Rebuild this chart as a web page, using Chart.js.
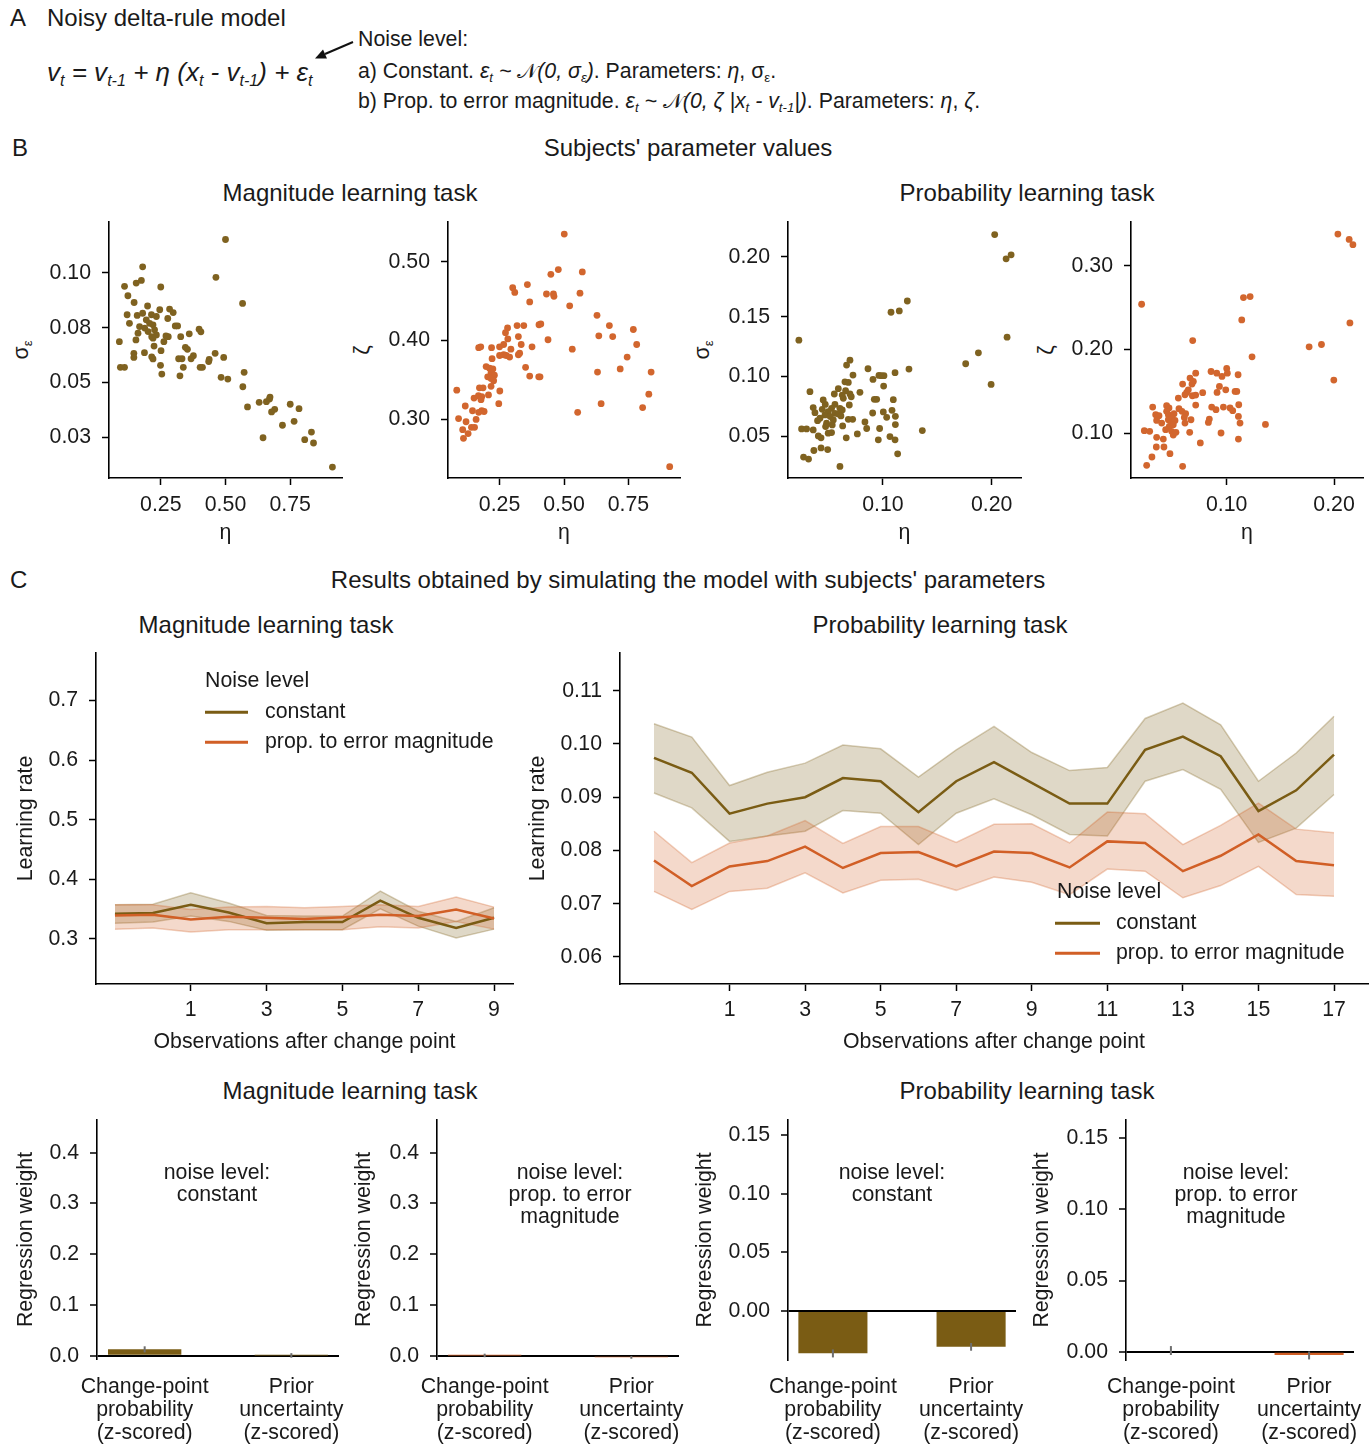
<!DOCTYPE html>
<html>
<head>
<meta charset="utf-8">
<script src="https://cdn.jsdelivr.net/npm/chart.js@4.4.1/dist/chart.umd.min.js"></script>
<style>
  body { margin: 0; background: #fff; width: 1372px; height: 1445px; position: relative; overflow: hidden;
         font-family: 'Liberation Sans', Arial, Helvetica, sans-serif; color: #1a1a1a; }
  canvas { position: absolute; }
  .t { position: absolute; white-space: nowrap; line-height: 1; font-size: 21.3px; transform: translate(0, -50%); }
  .c { transform: translate(-50%, -50%); text-align: center; }
  .h { font-size: 24px; }
  .v { transform: translate(-50%, -50%) rotate(-90deg); }
  sub { font-size: 0.62em; vertical-align: baseline; position: relative; top: 0.32em; }
  .cal { font-family: 'DejaVu Sans', 'Noto Sans', sans-serif; font-style: normal; }
  .ln { position: absolute; height: 2.5px; transform: translate(0, -50%); }
</style>
</head>
<body>

<!-- panel A -->
<div class="t h" style="left:10px;top:18px">A</div>
<div class="t h" style="left:47px;top:18px">Noisy delta-rule model</div>
<div class="t" style="left:47px;top:72px;font-size:26px"><i>v<sub>t</sub> = v<sub>t-1</sub> + η (x<sub>t</sub> - v<sub>t-1</sub>) + ε<sub>t</sub></i></div>
<svg style="position:absolute;left:0;top:0" width="400" height="100">
  <line x1="353" y1="42" x2="325" y2="54" stroke="#111" stroke-width="2"/>
  <polygon points="315,58.5 327,58.6 323,49.4" fill="#111"/>
</svg>
<div class="t" style="left:358px;top:40px">Noise level:</div>
<div class="t" style="left:358px;top:71px">a) Constant. <i>ε<sub>t</sub> ~ <span class="cal">𝒩</span>(0, σ<sub>ε</sub>)</i>. Parameters: <i>η</i>, σ<sub>ε</sub>.</div>
<div class="t" style="left:358px;top:101px">b) Prop. to error magnitude. <i>ε<sub>t</sub> ~ <span class="cal">𝒩</span>(0, ζ |x<sub>t</sub> - v<sub>t-1</sub>|)</i>. Parameters: <i>η</i>, <i>ζ</i>.</div>

<!-- panel B -->
<div class="t h" style="left:12px;top:148px">B</div>
<div class="t h c" style="left:688px;top:148px">Subjects' parameter values</div>
<div class="t h c" style="left:350px;top:193px">Magnitude learning task</div>
<div class="t h c" style="left:1027px;top:193px">Probability learning task</div>
<div class="t v" style="left:22px;top:350px">σ<sub>ε</sub></div>
<div class="t v" style="left:363px;top:350px">ζ</div>
<div class="t v" style="left:703px;top:350px">σ<sub>ε</sub></div>
<div class="t v" style="left:1047px;top:350px">ζ</div>
<canvas id="s1"></canvas>
<canvas id="s2"></canvas>
<canvas id="s3"></canvas>
<canvas id="s4"></canvas>

<!-- panel C -->
<div class="t h" style="left:10px;top:580px">C</div>
<div class="t h c" style="left:688px;top:580px">Results obtained by simulating the model with subjects' parameters</div>
<div class="t h c" style="left:266px;top:625px">Magnitude learning task</div>
<div class="t h c" style="left:940px;top:625px">Probability learning task</div>
<canvas id="l1"></canvas>
<canvas id="l2"></canvas>
<div class="t" style="left:205px;top:681px">Noise level</div>
<div class="ln" style="left:205px;top:712px;width:43px;background:#7a5c14"></div>
<div class="t" style="left:265px;top:712px">constant</div>
<div class="ln" style="left:205px;top:742px;width:43px;background:#d15f26"></div>
<div class="t" style="left:265px;top:742px">prop. to error magnitude</div>
<div class="t" style="left:1057px;top:892px">Noise level</div>
<div class="ln" style="left:1055px;top:923px;width:45px;background:#7a5c14"></div>
<div class="t" style="left:1116px;top:923px">constant</div>
<div class="ln" style="left:1055px;top:953px;width:45px;background:#d15f26"></div>
<div class="t" style="left:1116px;top:953px">prop. to error magnitude</div>

<div class="t h c" style="left:350px;top:1091px">Magnitude learning task</div>
<div class="t h c" style="left:1027px;top:1091px">Probability learning task</div>
<canvas id="b1"></canvas>
<canvas id="b2"></canvas>
<canvas id="b3"></canvas>
<canvas id="b4"></canvas>
<div class="t c" style="left:217px;top:1183px;line-height:22px">noise level:<br>constant</div>
<div class="t c" style="left:570px;top:1194px;line-height:22px">noise level:<br>prop. to error<br>magnitude</div>
<div class="t c" style="left:892px;top:1183px;line-height:22px">noise level:<br>constant</div>
<div class="t c" style="left:1236px;top:1194px;line-height:22px">noise level:<br>prop. to error<br>magnitude</div>

<script>
const OLIVE = '#7a5c14';
const ORANGE = '#d15f26';
const DOT_OLIVE = '#7f6220';
const DOT_ORANGE = '#d2662e';

// B: subjects' parameters, magnitude task
const magEtaConst = [0.50,0.18,0.463,0.175,0.155,0.11,0.25,0.123,0.147,0.566,
  0.199,0.246,0.284,0.298,0.12,0.159,0.18,0.214,0.233,0.129,
  0.277,0.306,0.315,0.194,0.207,0.22,0.168,0.188,0.226,0.162,
  0.201,0.215,0.233,0.22,0.09,0.154,0.279,0.27,0.327,0.36,
  0.398,0.405,0.262,0.224,0.345,0.353,0.251,0.187,0.146,0.146,
  0.46,0.376,0.367,0.319,0.332,0.493,0.437,0.215,0.22,0.094,
  0.11,0.249,0.337,0.402,0.411,0.435,0.572,0.254,0.324,0.483,
  0.509,0.567,0.658,0.63,0.585,0.67,0.672,0.75,0.784,0.69,
  0.678,0.765,0.72,0.645,0.832,0.806,0.84,0.913];
const magSigma = [0.1153,0.1028,0.098,0.0966,0.0954,0.0939,0.0936,0.0896,0.0865,0.0861,
  0.0849,0.0832,0.0835,0.0819,0.0809,0.0806,0.0816,0.0809,0.0801,0.077,
  0.0792,0.0758,0.0758,0.0786,0.077,0.0763,0.0755,0.0748,0.074,0.0725,
  0.0732,0.0709,0.0717,0.0702,0.0686,0.0694,0.0709,0.0712,0.0709,0.0722,
  0.0743,0.0731,0.0686,0.0666,0.066,0.0651,0.0645,0.0636,0.0633,0.0614,
  0.0633,0.0622,0.0608,0.0608,0.0608,0.0614,0.0605,0.0617,0.0607,0.0569,
  0.0569,0.0578,0.0569,0.0569,0.0569,0.0595,0.0546,0.0538,0.053,0.0523,
  0.0515,0.048,0.0412,0.0409,0.0388,0.0424,0.0433,0.04,0.038,0.0377,
  0.0365,0.0322,0.0304,0.0247,0.0273,0.0238,0.0223,0.0113];
const magEtaProp = [0.501,0.478,0.449,0.571,0.358,0.301,0.309,0.432,0.459,0.461,
  0.562,0.367,0.522,0.628,0.281,0.318,0.344,0.403,0.41,0.676,
  0.769,0.635,0.689,0.273,0.323,0.282,0.438,0.169,0.177,0.219,
  0.25,0.266,0.334,0.376,0.532,0.294,0.782,0.25,0.266,0.276,
  0.289,0.323,0.328,0.221,0.745,0.198,0.351,0.211,0.224,0.718,
  0.217,0.23,0.367,0.402,0.407,0.204,0.217,0.227,0.63,0.838,
  0.172,0.186,0.217,0.084,0.251,0.207,0.168,0.181,0.151,0.178,
  0.829,0.247,0.644,0.117,0.805,0.145,0.181,0.19,0.169,0.553,
  0.091,0.159,0.12,0.141,0.153,0.107,0.128,0.11,0.91];
const magZeta = [0.535,0.490,0.484,0.487,0.471,0.467,0.461,0.459,0.459,0.456,
  0.460,0.449,0.444,0.432,0.416,0.419,0.419,0.420,0.421,0.419,
  0.414,0.406,0.405,0.41,0.405,0.402,0.401,0.391,0.392,0.391,
  0.392,0.395,0.395,0.392,0.389,0.389,0.395,0.381,0.382,0.381,
  0.379,0.382,0.384,0.377,0.379,0.367,0.366,0.365,0.364,0.364,
  0.359,0.356,0.355,0.354,0.354,0.354,0.352,0.349,0.36,0.36,
  0.34,0.34,0.342,0.337,0.336,0.331,0.33,0.329,0.327,0.325,
  0.332,0.32,0.32,0.317,0.315,0.311,0.311,0.31,0.309,0.309,
  0.301,0.3,0.297,0.29,0.29,0.287,0.282,0.276,0.24];

// B: subjects' parameters, probability task
const probEtaConst = [0.2028,0.2179,0.2133,0.1224,0.115,0.1074,0.0226,0.2142,0.1878,0.1761,
  0.1995,0.0696,0.0665,0.0724,0.0862,0.1239,0.1111,0.0963,0.0985,0.1009,
  0.0908,0.1006,0.065,0.0681,0.0589,0.0328,0.0552,0.0788,0.0625,0.0656,
  0.0696,0.0708,0.045,0.0635,0.092,0.0942,0.1095,0.0558,0.0469,0.069,
  0.0358,0.0527,0.0604,0.0625,0.0441,0.0496,0.0374,0.1083,0.1003,0.0905,
  0.0558,0.0589,0.1114,0.1034,0.0466,0.0515,0.0398,0.042,0.0543,0.0481,
  0.0613,0.0681,0.0721,0.0834,0.0472,0.0533,0.0629,0.085,0.1114,0.0969,
  0.0251,0.0297,0.0358,0.1362,0.0764,0.0527,0.0496,0.0405,0.043,0.0662,
  0.1064,0.0957,0.1111,0.0364,0.043,0.0491,0.1135,0.0269,0.0315,0.0604];
const probSigma = [0.2187,0.2017,0.1984,0.1631,0.1548,0.1537,0.1303,0.1328,0.1197,0.1106,
  0.0933,0.1136,0.1095,0.1011,0.1064,0.1061,0.1031,0.1008,0.1006,0.1006,
  0.0975,0.0919,0.0955,0.095,0.0897,0.0872,0.0853,0.0867,0.0844,0.088,
  0.0853,0.083,0.0803,0.0817,0.0808,0.0808,0.0805,0.0766,0.0766,0.0761,
  0.0739,0.0733,0.0733,0.0719,0.0725,0.0705,0.0697,0.0716,0.0703,0.0694,
  0.0691,0.0686,0.0666,0.0658,0.0678,0.0664,0.063,0.065,0.0636,0.0608,
  0.0669,0.0641,0.0641,0.0619,0.058,0.0594,0.0586,0.0564,0.0597,0.0564,
  0.0561,0.0561,0.0552,0.0547,0.0519,0.053,0.0525,0.0502,0.0486,0.0486,
  0.0497,0.0469,0.0469,0.038,0.0402,0.0388,0.0352,0.0325,0.0308,0.0247];
const probEtaProp = [0.2036,0.2141,0.2176,0.0207,0.1156,0.1218,0.114,0.2148,0.0683,0.1768,
  0.1883,0.1236,0.1998,0.1,0.1006,0.0854,0.0907,0.0956,0.1106,0.0711,
  0.0658,0.0589,0.0676,0.0689,0.0627,0.0642,0.0611,0.068,0.0711,0.0776,
  0.091,0.0932,0.0991,0.1078,0.1094,0.0549,0.0711,0.1112,0.086,0.09,
  0.0969,0.1031,0.1056,0.031,0.044,0.0462,0.0555,0.0583,0.0338,0.0369,
  0.044,0.0456,0.0509,0.0617,0.0605,0.0347,0.0394,0.0456,0.049,0.0487,
  0.0518,0.0465,0.0502,0.0611,0.0667,0.0838,0.0829,0.1109,0.1124,0.1361,
  0.0431,0.0487,0.0502,0.0527,0.0232,0.0282,0.0655,0.0947,0.1109,0.0347,
  0.0409,0.0344,0.0415,0.0754,0.0471,0.0303,0.0254,0.0589];
const probZeta = [0.3381,0.3317,0.3254,0.2541,0.2621,0.2633,0.2354,0.2318,0.2107,0.2032,
  0.206,0.1912,0.1634,0.1773,0.1717,0.1737,0.1717,0.1678,0.1698,0.1717,
  0.1658,0.1586,0.1586,0.1618,0.1487,0.1518,0.1459,0.1447,0.1455,0.1483,
  0.1487,0.1558,0.1518,0.1499,0.1499,0.1419,0.1335,0.1339,0.1311,0.128,
  0.1311,0.13,0.1268,0.1311,0.1327,0.13,0.1292,0.126,0.122,0.1208,
  0.126,0.122,0.1232,0.1232,0.1188,0.1152,0.112,0.116,0.118,0.112,
  0.1152,0.1081,0.1101,0.112,0.116,0.1168,0.1128,0.12,0.112,0.1104,
  0.1041,0.1021,0.0977,0.1009,0.1029,0.1021,0.1009,0.1001,0.0929,0.0949,
  0.0929,0.0834,0.0834,0.0882,0.0754,0.0714,0.0615,0.0603];

// tick labels
const etaMagTicks = [0.25, 0.5, 0.75];
const etaMagLabels = ['0.25', '0.50', '0.75'];
const etaProbTicks = [0.1, 0.2];
const etaProbLabels = ['0.10', '0.20'];
const sigMagTicks = [0.025, 0.05, 0.075, 0.1];
const sigMagLabels = ['0.03', '0.05', '0.08', '0.10'];
const zetaMagTicks = [0.3, 0.4, 0.5];
const zetaMagLabels = ['0.30', '0.40', '0.50'];
const sigProbTicks = [0.05, 0.1, 0.15, 0.2];
const sigProbLabels = ['0.05', '0.10', '0.15', '0.20'];
const zetaProbTicks = [0.1, 0.2, 0.3];
const zetaProbLabels = ['0.10', '0.20', '0.30'];

// C: learning rate after change point
const obsMag = [-1, 0, 1, 2, 3, 4, 5, 6, 7, 8, 9];
const lrMagConst   = [0.342,0.343,0.357,0.344,0.326,0.328,0.328,0.364,0.335,0.318,0.335];
const lrMagConstHi = [0.357,0.358,0.377,0.360,0.339,0.338,0.338,0.380,0.346,0.329,0.352];
const lrMagConstLo = [0.326,0.328,0.338,0.329,0.314,0.315,0.315,0.350,0.321,0.301,0.316];
const lrMagProp    = [0.339,0.340,0.332,0.337,0.335,0.333,0.336,0.340,0.338,0.349,0.334];
const lrMagPropHi  = [0.357,0.357,0.349,0.353,0.354,0.352,0.354,0.357,0.354,0.370,0.353];
const lrMagPropLo  = [0.316,0.318,0.311,0.315,0.315,0.315,0.315,0.320,0.318,0.329,0.316];

const obsProb = [-1, 0, 1, 2, 3, 4, 5, 6, 7, 8, 9, 10, 11, 12, 13, 14, 15, 16, 17];
const lrProbConst   = [0.0974,0.0946,0.0869,0.0888,0.0900,0.0936,0.0930,0.0872,0.0930,0.0966,0.0927,0.0888,0.0888,0.0989,0.1014,0.0977,0.0874,0.0913,0.0980];
const lrProbConstHi = [0.1038,0.1013,0.0922,0.0947,0.0964,0.0998,0.0991,0.0938,0.0989,0.1033,0.0984,0.0950,0.0956,0.1048,0.1077,0.1036,0.0930,0.0983,0.1052];
const lrProbConstLo = [0.0908,0.0880,0.0817,0.0827,0.0836,0.0875,0.0870,0.0811,0.0870,0.0897,0.0867,0.0830,0.0827,0.0930,0.0952,0.0915,0.0815,0.0842,0.0905];
const lrProbProp    = [0.0781,0.0733,0.0770,0.0780,0.0807,0.0767,0.0795,0.0797,0.0770,0.0798,0.0795,0.0768,0.0817,0.0814,0.0761,0.0790,0.0830,0.0780,0.0772];
const lrProbPropHi  = [0.0836,0.0777,0.0814,0.0827,0.0856,0.0813,0.0845,0.0845,0.0815,0.0849,0.0850,0.0814,0.0872,0.0869,0.0811,0.0847,0.0889,0.0840,0.0833];
const lrProbPropLo  = [0.0723,0.0689,0.0723,0.0729,0.0758,0.0720,0.0744,0.0746,0.0725,0.0750,0.0740,0.0717,0.0765,0.0761,0.0711,0.0734,0.0770,0.0717,0.0714];

const obsMagTicks = [1, 3, 5, 7, 9];
const obsProbTicks = [1, 3, 5, 7, 9, 11, 13, 15, 17];
const lrMagTicks = [0.3, 0.4, 0.5, 0.6, 0.7];
const lrMagLabels = ['0.3', '0.4', '0.5', '0.6', '0.7'];
const lrProbTicks = [0.06, 0.07, 0.08, 0.09, 0.10, 0.11];
const lrProbLabels = ['0.06', '0.07', '0.08', '0.09', '0.10', '0.11'];

// C: regression weights
const regPos = [0, 1];
const regLabels = [['Change-point', 'probability', '(z-scored)'], ['Prior', 'uncertainty', '(z-scored)']];
const magConstW  = [0.0125, 0.0004];
const magConstLo = [0.0065, -0.004];
const magConstHi = [0.0185, 0.005];
const magPropW   = [0.0006, -0.0032];
const magPropLo  = [-0.003, -0.006];
const magPropHi  = [0.004, -0.0005];
const probConstW  = [-0.036, -0.0304];
const probConstLo = [-0.0395, -0.0338];
const probConstHi = [-0.0327, -0.0272];
const probPropW   = [0.0007, -0.0023];
const probPropLo  = [-0.0023, -0.0054];
const probPropHi  = [0.004, 0.0002];
const regMagTicks = [0, 0.1, 0.2, 0.3, 0.4];
const regMagLabels = ['0.0', '0.1', '0.2', '0.3', '0.4'];
const regProbTicks = [0, 0.05, 0.1, 0.15];
const regProbLabels = ['0.00', '0.05', '0.10', '0.15'];

Chart.defaults.font.family = "'Liberation Sans', Arial, Helvetica, sans-serif";
Chart.defaults.font.size = 21.3;
Chart.defaults.color = '#1a1a1a';
Chart.defaults.animation = false;
Chart.defaults.plugins.legend.display = false;
Chart.defaults.plugins.tooltip.enabled = false;

const PT = 30; // room above the plot for the scale's own label padding

// place a canvas so that its chart area lands on [L, T, R, B]
function setup(id, area, yw, xh, pr) {
  const [L, T, R, B] = area;
  const c = document.getElementById(id);
  const left = L - yw, top = T - PT, w = R - L + yw + pr, h = B - T + PT + xh;
  Object.assign(c.style, { left: left + 'px', top: top + 'px', width: w + 'px', height: h + 'px' });
  c.width = w;
  c.height = h;
  return { c, left, bottom: top + h, pr };
}

function yScale(o) {
  const grid = { drawOnChartArea: !!o.zero, tickLength: 7, tickColor: '#000', tickWidth: 1.5 };
  if (o.zero) {
    grid.color = ctx => (ctx.tick && ctx.tick.value === 0 ? '#000' : 'rgba(0,0,0,0)');
    grid.lineWidth = 2;
  }
  return {
    type: 'linear', position: 'left', min: o.min, max: o.max,
    afterFit: s => { s.width = o.yw; },
    afterBuildTicks: s => { s.ticks = o.vals.map(v => ({ value: v })); },
    ticks: { padding: 11, callback: (v, i) => o.labs[i] },
    grid,
    border: { color: '#000', width: 1.6 },
    title: o.title
      ? { display: true, text: o.title, padding: { top: o.titleX - o.left - 12.8, bottom: 0 } }
      : { display: false }
  };
}

function xScale(o) {
  return {
    type: 'linear', position: 'bottom', min: o.min, max: o.max, offset: false,
    afterFit: s => { s.height = o.xh; },
    afterBuildTicks: s => { s.ticks = o.vals.map(v => ({ value: v })); },
    ticks: { padding: o.pad, maxRotation: 0, autoSkip: false, callback: (v, i) => o.labs[i],
             font: o.lineHeight ? { lineHeight: o.lineHeight } : undefined },
    grid: o.bare ? { display: false, drawTicks: false, offset: false }
                 : { drawOnChartArea: false, tickLength: 7, tickColor: '#000', tickWidth: 1.5 },
    border: o.bare ? { display: false } : { color: '#000', width: 1.6 },
    title: o.title
      ? { display: true, text: o.title, padding: { top: 0, bottom: o.bottom - o.titleY - 12.8 } }
      : { display: false }
  };
}

function scatter(id, area, yw, xs, ys, color, xr, xt, xl, yr, yt, yl) {
  const f = setup(id, area, yw, 74, 8);
  new Chart(f.c, {
    type: 'scatter',
    data: { datasets: [{ data: xs.map((x, i) => ({ x, y: ys[i] })), backgroundColor: color,
                         borderWidth: 0, pointRadius: 3.4, clip: false }] },
    options: {
      responsive: false,
      layout: { padding: { top: PT, right: f.pr, left: 0, bottom: 0 } },
      scales: {
        x: xScale({ min: xr[0], max: xr[1], vals: xt, labs: xl, xh: 74, pad: 7.4,
                    title: 'η', titleY: 533, bottom: f.bottom }),
        y: yScale({ min: yr[0], max: yr[1], vals: yt, labs: yl, yw })
      }
    }
  });
}

scatter('s1', [109, 222, 342, 478], 69, magEtaConst, magSigma, DOT_OLIVE,
        [0.05, 0.95], etaMagTicks, etaMagLabels, [0.0063, 0.1233], sigMagTicks, sigMagLabels);
scatter('s2', [448, 222, 680, 478], 68, magEtaProp, magZeta, DOT_ORANGE,
        [0.05, 0.95], etaMagTicks, etaMagLabels, [0.2257, 0.5503], zetaMagTicks, zetaMagLabels);
scatter('s3', [788, 222, 1021, 478], 68, probEtaConst, probSigma, DOT_OLIVE,
        [0.0126, 0.227], etaProbTicks, etaProbLabels, [0.015, 0.2292], sigProbTicks, sigProbLabels);
scatter('s4', [1131, 222, 1363, 478], 68, probEtaProp, probZeta, DOT_ORANGE,
        [0.0108, 0.227], etaProbTicks, etaProbLabels, [0.0463, 0.3525], zetaProbTicks, zetaProbLabels);

function lineChart(id, area, yw, pr, xs, c, cl, ch, p, pl, ph, xr, xt, yr, yt, yl, titleX) {
  const f = setup(id, area, yw, 78, pr);
  const pts = arr => xs.map((x, i) => ({ x, y: arr[i] }));
  const band = (arr, col, fill, order) => ({
    data: pts(arr), borderColor: col + '0.3)', backgroundColor: col + '0.24)',
    borderWidth: 1.5, pointRadius: 0, fill, order
  });
  new Chart(f.c, {
    type: 'line',
    data: { datasets: [
      { data: pts(p), borderColor: ORANGE, borderWidth: 2.5, pointRadius: 0, order: 0 },
      { data: pts(c), borderColor: OLIVE, borderWidth: 2.5, pointRadius: 0, order: 1 },
      band(ph, 'rgba(209,95,38,', 3, 2),
      band(pl, 'rgba(209,95,38,', false, 2),
      band(ch, 'rgba(122,92,20,', 5, 3),
      band(cl, 'rgba(122,92,20,', false, 3)
    ] },
    options: {
      responsive: false,
      layout: { padding: { top: PT, right: f.pr, left: 0, bottom: 0 } },
      scales: {
        x: xScale({ min: xr[0], max: xr[1], vals: xt, labs: xt.map(String), xh: 78, pad: 6.4,
                    title: 'Observations after change point', titleY: 1042, bottom: f.bottom }),
        y: yScale({ min: yr[0], max: yr[1], vals: yt, labs: yl, yw,
                    title: 'Learning rate', titleX, left: f.left })
      }
    }
  });
}

lineChart('l1', [96, 653, 513, 984], 92, 8, obsMag, lrMagConst, lrMagConstLo, lrMagConstHi,
          lrMagProp, lrMagPropLo, lrMagPropHi, [-1.5, 9.5], obsMagTicks,
          [0.2238, 0.78], lrMagTicks, lrMagLabels, 26);
lineChart('l2', [620, 653, 1368, 984], 100, 3, obsProb, lrProbConst, lrProbConstLo, lrProbConstHi,
          lrProbProp, lrProbPropLo, lrProbPropHi, [-1.9, 17.9], obsProbTicks,
          [0.0549, 0.1171], lrProbTicks, lrProbLabels, 538);

const errorBars = {
  id: 'errorBars',
  afterDatasetsDraw(chart, args, opts) {
    const { ctx, scales: { x, y } } = chart;
    ctx.save();
    ctx.strokeStyle = '#6e6e6e';
    ctx.lineWidth = 2;
    opts.pos.forEach((p, i) => {
      const px = x.getPixelForValue(p);
      ctx.beginPath();
      ctx.moveTo(px, y.getPixelForValue(opts.lo[i]));
      ctx.lineTo(px, y.getPixelForValue(opts.hi[i]));
      ctx.stroke();
    });
    ctx.restore();
  }
};

function barChart(id, area, yw, w, lo, hi, color, yr, yt, yl, titleX) {
  const f = setup(id, area, yw, 1445 - area[3], 34);
  new Chart(f.c, {
    type: 'bar',
    data: { datasets: [{ data: regPos.map((x, i) => ({ x, y: w[i] })), backgroundColor: color,
                         categoryPercentage: 1, barPercentage: 0.5 }] },
    plugins: [errorBars],
    options: {
      responsive: false,
      layout: { padding: { top: PT, right: f.pr, left: 0, bottom: 0 } },
      plugins: { errorBars: { pos: regPos, lo, hi } },
      scales: {
        x: xScale({ min: -0.325, max: 1.325, vals: regPos, labs: regLabels, xh: 1445 - area[3],
                    pad: 1387 - area[3] - 11.7, bare: true, lineHeight: 1.08 }),
        y: yScale({ min: yr[0], max: yr[1], vals: yt, labs: yl, yw, zero: true,
                    title: 'Regression weight', titleX, left: f.left })
      }
    }
  });
}

barChart('b1', [97, 1120, 339, 1359], 93, magConstW, magConstLo, magConstHi, OLIVE,
         [-0.0065, 0.4644], regMagTicks, regMagLabels, 26);
barChart('b2', [437, 1120, 679, 1359], 93, magPropW, magPropLo, magPropHi, ORANGE,
         [-0.0065, 0.4644], regMagTicks, regMagLabels, 364);
barChart('b3', [788, 1120, 1016, 1360], 103, probConstW, probConstLo, probConstHi, OLIVE,
         [-0.0417, 0.1627], regProbTicks, regProbLabels, 705);
barChart('b4', [1126, 1120, 1354, 1360], 104, probPropW, probPropLo, probPropHi, ORANGE,
         [-0.0058, 0.1629], regProbTicks, regProbLabels, 1042);
</script>
</body>
</html>
